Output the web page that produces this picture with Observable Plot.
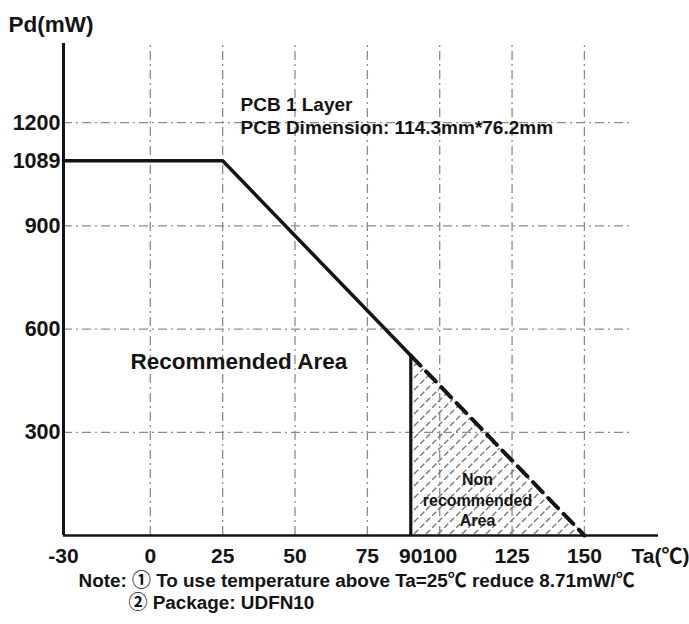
<!DOCTYPE html>
<html>
<head>
<meta charset="utf-8">
<script src="https://cdn.jsdelivr.net/npm/d3@7"></script>
<script src="https://cdn.jsdelivr.net/npm/@observablehq/plot@0.6"></script>
<style>
  html, body { margin: 0; padding: 0; background: #fff; }
</style>
</head>
<body>
<div id="chart"></div>
<script>
// ---- data ----
const taCurve = [-30, 25, 90];          // Ta (°C) of the solid derating curve
const pdCurve = [1089, 1089, 523];      // Pd (mW)
const taDashed = [90, 150];             // non-recommended continuation
const pdDashed = [523, 0];
const cutoffTa = 90;
const cutoffPd = 523;
const xTicks = [-30, 0, 25, 50, 75, 90, 100, 125, 150];
const yTicks = [300, 600, 900, 1089, 1200];
const xGrid = [0, 25, 50, 75, 100, 125, 150];
const yGrid = [300, 600, 900, 1200];
const xDomain = [-30, 175.6];
const yDomain = [0, 1430];
const yAxisTitle = ["Pd(mW)"];
const xAxisTitle = ["Ta(℃)"];
const pcbText = ["PCB 1 Layer\nPCB Dimension: 114.3mm*76.2mm"];
const recText = ["Recommended Area"];
const nonRecText = ["Non\nrecommended\nArea"];
const note1 = ["Note: ① To use temperature above Ta=25℃ reduce 8.71mW/℃"];
const note2 = ["② Package: UDFN10"];

// ---- styles ----
const font = "'Liberation Sans', Arial, 'Noto Sans CJK SC', sans-serif";
const ink = "#141414";
const gridStyle = { stroke: "#8c8c8c", strokeWidth: 1.3, strokeDasharray: "9,4,2,4" };

const solid = taCurve.map((t, i) => ({ ta: t, pd: pdCurve[i] }));
const dashed = taDashed.map((t, i) => ({ ta: t, pd: pdDashed[i] }));

const chart = Plot.plot({
  width: 689,
  height: 624,
  marginLeft: 63,
  marginRight: 31,
  marginTop: 43,
  marginBottom: 89,
  x: { domain: xDomain, label: null },
  y: { domain: yDomain, label: null },
  style: { fontFamily: font, background: "#fff", color: ink },
  marks: [
    Plot.ruleX(xGrid, { y1: yDomain[0], y2: yDomain[1], ...gridStyle }),
    Plot.ruleY(yGrid, { x1: xDomain[0], x2: 166, ...gridStyle }),
    Plot.areaY(dashed, { x: "ta", y: "pd", fill: "url(#hatch)" }),
    Plot.line(solid, { x: "ta", y: "pd", stroke: ink, strokeWidth: 3.5, strokeLinejoin: "miter" }),
    Plot.line(dashed, { x: "ta", y: "pd", stroke: ink, strokeWidth: 4, strokeDasharray: "14,8" }),
    Plot.ruleX([{ ta: cutoffTa, pd: cutoffPd }], { x: "ta", y1: 0, y2: "pd", stroke: ink, strokeWidth: 3.2 }),
    Plot.ruleX([xDomain[0]], { stroke: ink, strokeWidth: 3 }),
    Plot.ruleY([0], { stroke: ink, strokeWidth: 2.5 }),
    Plot.axisX(xTicks, { label: null, tickSize: 0, tickPadding: 13, fontSize: 21, fontWeight: "bold", tickFormat: d => String(d) }),
    Plot.axisY(yTicks, { label: null, tickSize: 0, tickPadding: 3, fontSize: 21.5, fontWeight: "bold", tickFormat: d => String(d) }),
    Plot.text(yAxisTitle, { text: d => d, frameAnchor: "top-left", dx: -55, dy: -27, textAnchor: "start", lineAnchor: "top", fontSize: 22.5, fontWeight: "bold", fill: ink }),
    Plot.text(xAxisTitle, { text: d => d, frameAnchor: "bottom-right", dx: 31, dy: 13, textAnchor: "end", lineAnchor: "top", fontSize: 21, fontWeight: "bold", fill: ink }),
    Plot.text(pcbText, { text: d => d, frameAnchor: "top-left", dx: 177, dy: 51.5, textAnchor: "start", lineAnchor: "top", lineHeight: 1.21, fontSize: 19, fontWeight: "bold", fill: ink }),
    Plot.text(recText, { text: d => d, frameAnchor: "top-left", dx: 67, dy: 310, textAnchor: "start", lineAnchor: "top", fontSize: 22.5, fontWeight: "bold", fill: ink }),
    Plot.text(nonRecText, { text: d => d, frameAnchor: "top-left", dx: 414, dy: 426.5, textAnchor: "middle", lineAnchor: "top", lineHeight: 1.3, fontSize: 16, fontWeight: "bold", fill: ink }),
    Plot.text(note1, { text: d => d, frameAnchor: "bottom-left", dx: 15, dy: 38.5, textAnchor: "start", lineAnchor: "top", fontSize: 18.9, fontWeight: "bold", fill: ink }),
    Plot.text(note2, { text: d => d, frameAnchor: "bottom-left", dx: 65, dy: 60.5, textAnchor: "start", lineAnchor: "top", fontSize: 18.9, fontWeight: "bold", fill: ink })
  ]
});

// hatch pattern used by the non-recommended area
const svg = d3.select(chart);
const pat = svg.insert("defs", ":first-child")
  .append("pattern")
  .attr("id", "hatch")
  .attr("patternUnits", "userSpaceOnUse")
  .attr("width", 12)
  .attr("height", 12);
pat.append("path")
  .attr("d", "M0,12L12,0")
  .attr("stroke", "#7a7a7a")
  .attr("stroke-width", 1.4)
  .attr("stroke-dasharray", "6,2.485")
  .attr("fill", "none");

document.getElementById("chart").appendChild(chart);
</script>
</body>
</html>
